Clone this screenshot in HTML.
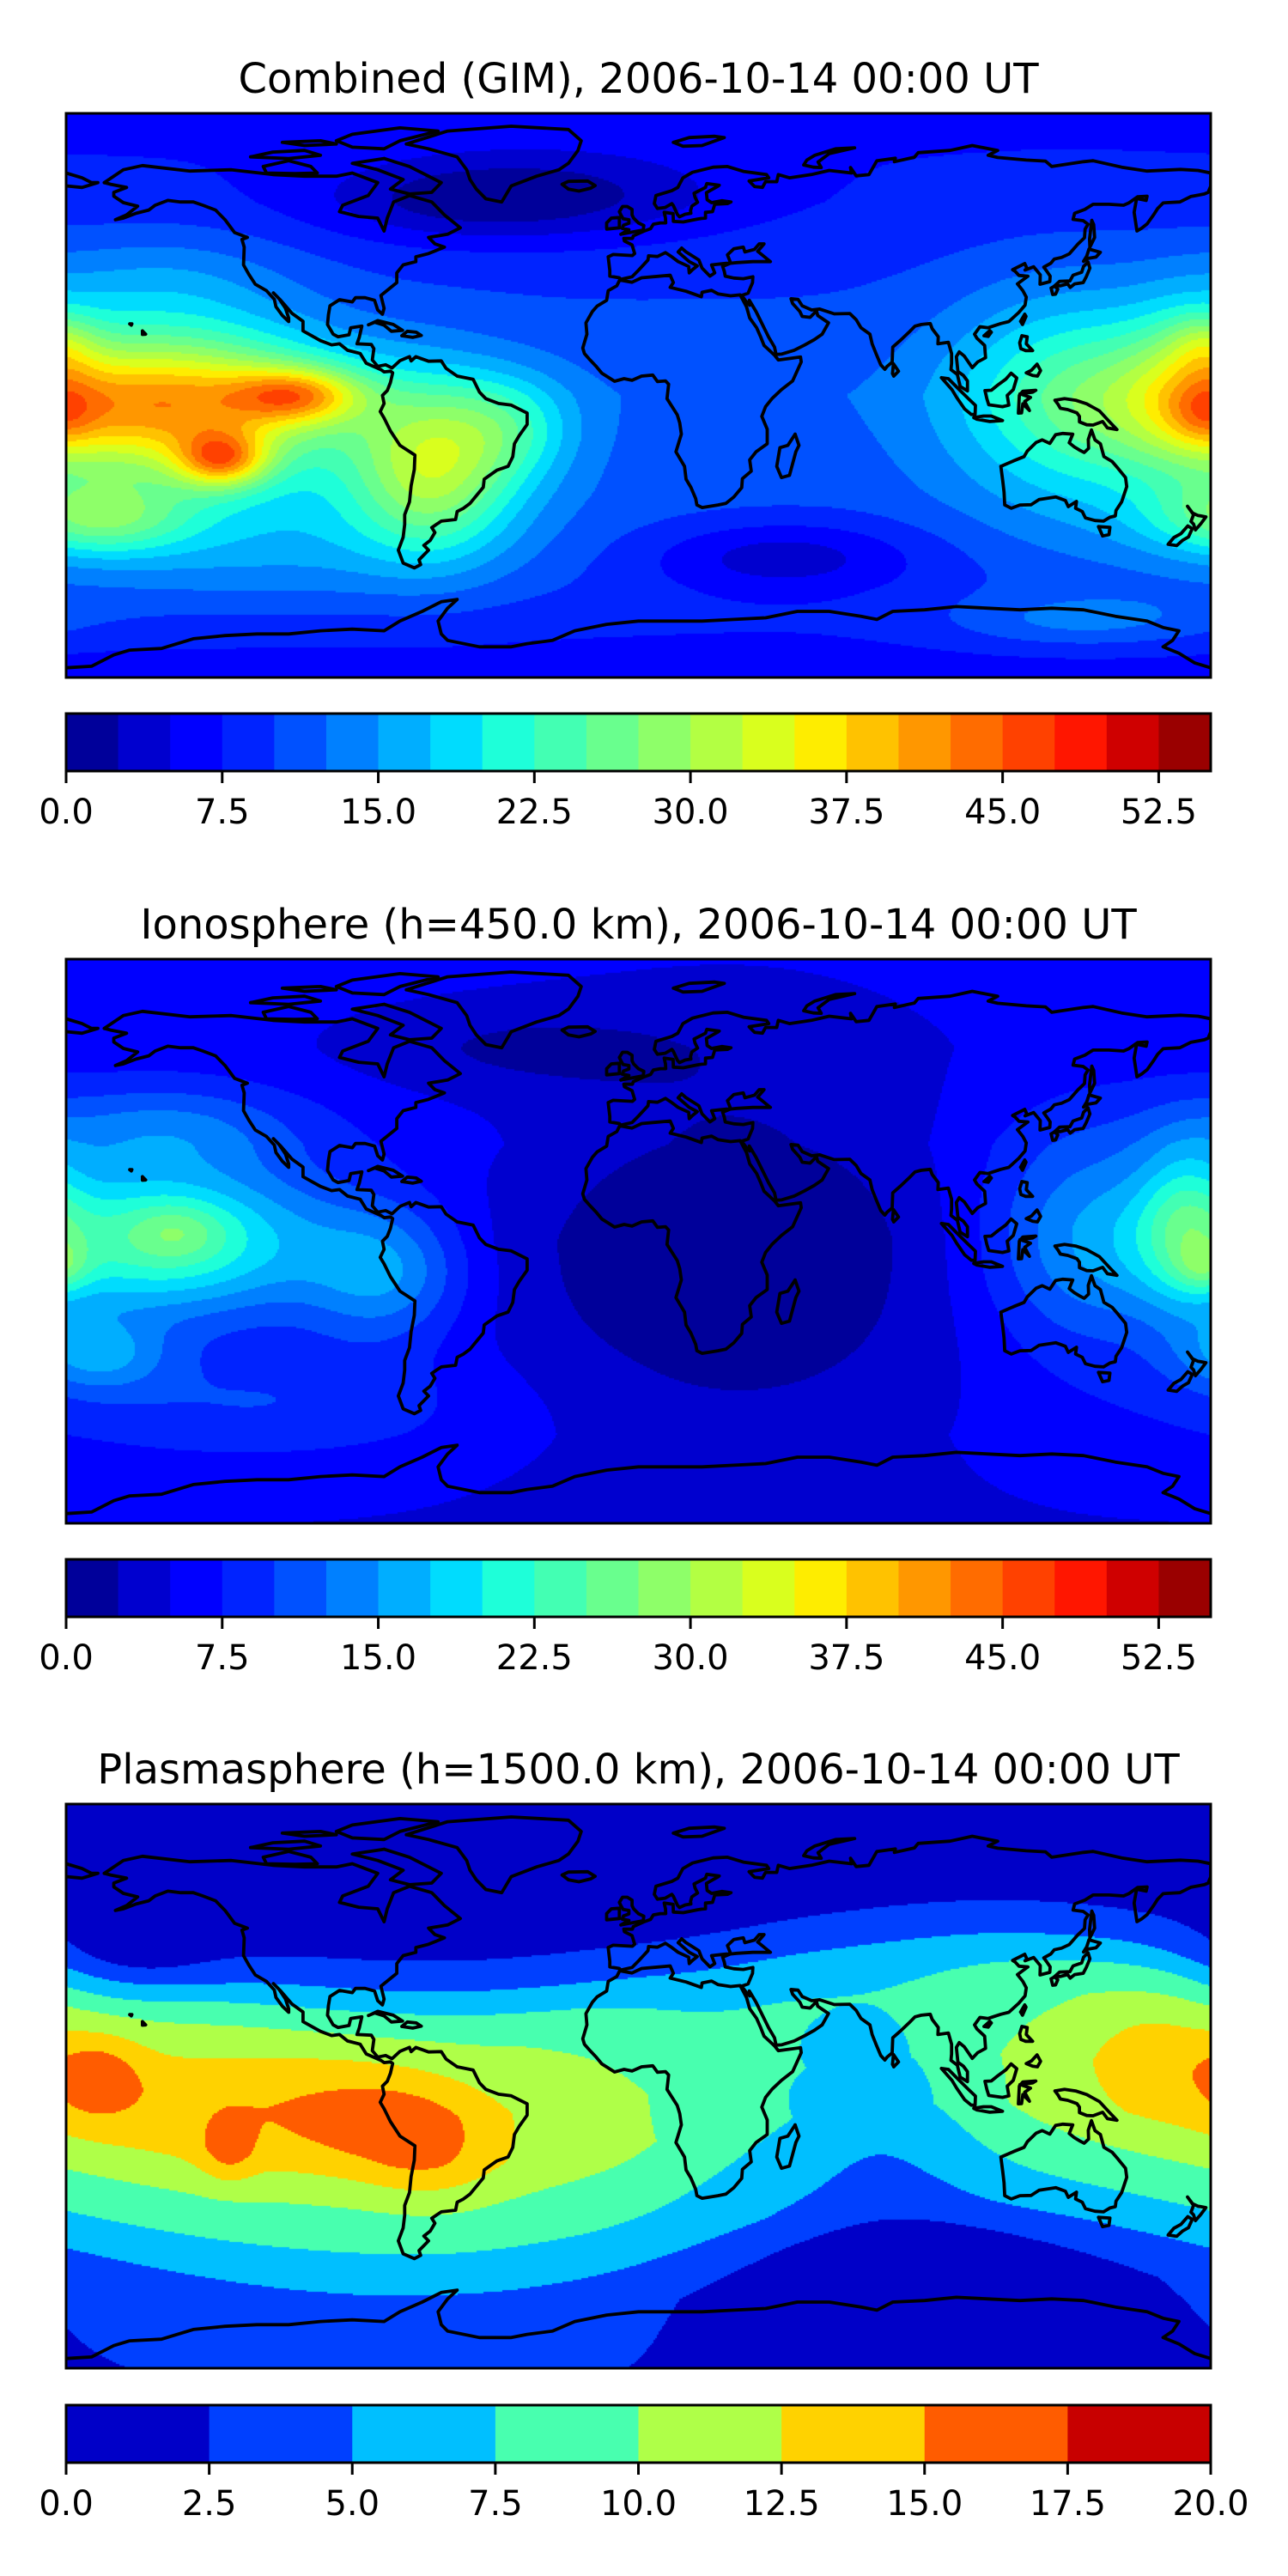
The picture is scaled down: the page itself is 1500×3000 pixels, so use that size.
<!DOCTYPE html>
<html><head><meta charset="utf-8">
<style>
html,body{margin:0;padding:0;background:#fff;}
#wrap{position:relative;width:1500px;height:3000px;overflow:hidden;background:#fff;}
canvas{position:absolute;}
svg{position:absolute;left:0;top:0;}
text{font-family:"DejaVu Sans","Liberation Sans",sans-serif;fill:#000;}
</style></head>
<body>
<div id="wrap">
<canvas id="c0" width="1333" height="657" style="left:77px;top:132px"></canvas>
<canvas id="c1" width="1333" height="657" style="left:77px;top:1117px"></canvas>
<canvas id="c2" width="1333" height="657" style="left:77px;top:2101px"></canvas>
<svg id="ov" width="1500" height="3000"></svg>
</div>
<script>
// ---------- data ----------
const titles = ["Combined (GIM), 2006-10-14 00:00 UT","Ionosphere  (h=450.0 km), 2006-10-14 00:00 UT","Plasmasphere (h=1500.0 km), 2006-10-14 00:00 UT"];
const levelMax = [55, 55, 20];
const levelStep = [2.5, 2.5, 2.5];
const tickLabels0 = ["0.0","7.5","15.0","22.5","30.0","37.5","45.0","52.5"];
const tickValues0 = [0,7.5,15,22.5,30,37.5,45,52.5];
const tickLabels2 = ["0.0","2.5","5.0","7.5","10.0","12.5","15.0","17.5","20.0"];
const tickValues2 = [0,2.5,5,7.5,10,12.5,15,17.5,20];

// background latitude profiles
const baseLat0 = [87.5,60,30,0,-30,-60,-87.5];
const baseVal0 = [7,8,10,12,11,9,6];
const baseLat1 = [87.5,60,30,0,-30,-60,-87.5];
const baseVal1 = [6,6,7,6,6,6,5];
const baseLat2 = [90,55,48,38,30,20,0,-15,-30,-45,-55,-65,-90];
const baseVal2 = [1,1.5,2.5,5,7.5,9.5,11,11,9,7,5,3.5,2.5];

// anomalies: lon, lat, amplitude, sigma-lon, sigma-lat
const blobLon0 = [-150,-107,-131,-180,-65,-40,-170,-120,172,178,178,135,-30,45,-60,140,-150];
const blobLat0 = [-3,0,-20,3,-22,-10,-38,-45,5,17,-7,0,62,-50,60,-70,35];
const blobAmp0 = [30,16,18,3,18,8,12,6,5,4,4,10,-6,-6,-3,5,5];
const blobSx0  = [40,14,10,8,18,15,20,60,12,8,8,28,40,30,30,30,30];
const blobSy0  = [16,6,6,12,18,12,8,15,18,6,6,25,10,8,8,6,12];

const blobLon1 = [-150,-145,-170,-80,172,178,140,30,-40,-150,-120];
const blobLat1 = [0,3,-35,-10,5,-8,0,0,60,35,-50];
const blobAmp1 = [18,4,8,9,8,5,8,-6,-3,6,4];
const blobSx1  = [35,10,15,18,10,6,25,55,40,30,50];
const blobSy1  = [16,6,8,15,18,5,25,45,10,10,12];

const blobLon2 = [-170,-120,-85,-129,-65,162,75,25,90,-160];
const blobLat2 = [3,-5,-10,-20,-20,12,-5,0,-65,40];
const blobAmp2 = [4,3.5,2.5,3,3,2.5,-4.5,-2,-4,-3];
const blobSx2  = [10,50,18,6,15,16,25,20,45,20];
const blobSy2  = [9,18,10,7,12,14,25,25,20,10];

// coastline outlines (lon, lat)
const coast = [
[[-168,66],[-162,70],[-156,71.3],[-141,69.6],[-128,70],[-115,68.5],[-105,68],[-95,68],[-90,69],[-82,66],[-85,62],[-93,59],[-94,57],[-88,55.5],[-82,55],[-80,51],[-79,55],[-77,60],[-72,62],[-65,60],[-61,56],[-56,52],[-60,50],[-66,49],[-64,47],[-61,46],[-66,44],[-70,43],[-70,41.5],[-74,40.5],[-76,38],[-76,35],[-81,31],[-80,27],[-80.5,25.2],[-82,26.5],[-83,29.5],[-86,30.3],[-89,30.3],[-90,29],[-94,29.7],[-97,27.8],[-97.5,25],[-97.8,22],[-96,19],[-94.5,18.2],[-91,18.8],[-90.5,21],[-87,21.5],[-87.8,18],[-88.5,16],[-84,15.8],[-83.2,14.5],[-83.7,11],[-82,9],[-79.5,9.5],[-77.5,8.5],[-75,10.8],[-72,12],[-71.5,10.7],[-70,12],[-66,10.6],[-62,10.7],[-60.5,8.4],[-57,6],[-52,5],[-50,1],[-48,-1],[-44,-2.5],[-40,-3],[-35,-5.5],[-35,-9],[-37.5,-12.5],[-39,-15],[-39.5,-19],[-41,-22],[-44.5,-23.2],[-48.5,-26],[-48.8,-28.5],[-53,-33.5],[-55,-35],[-57,-36],[-57.5,-38.5],[-62,-39],[-65,-41],[-64,-42.5],[-65.5,-45],[-67.5,-46.5],[-66,-48],[-69,-51],[-68.5,-52.5],[-70.5,-53.5],[-74,-52],[-75.5,-48],[-74,-44],[-73.5,-40],[-73.5,-37],[-72,-33],[-71.5,-28],[-70.5,-23],[-70.3,-18.5],[-75,-15.5],[-78,-11],[-80,-7],[-81.2,-5],[-80,-2.5],[-80.5,0],[-79,1.5],[-78,4],[-77.3,7],[-78,7.5],[-80,7.3],[-81,8],[-85.6,10],[-87.5,13],[-91.5,14],[-94,16],[-96.5,15.7],[-100,17],[-105.5,20],[-105.5,23],[-109,25.5],[-112.5,29.5],[-114.8,31.8],[-113,30],[-111,27],[-110,24],[-110,22.9],[-112,24.8],[-114,27.5],[-114.5,29.8],[-117,32.5],[-120.5,34.5],[-122.5,37.5],[-124.2,40.5],[-124,46],[-124.7,48.4],[-123,49],[-127,50.5],[-130,54.5],[-133,57.5],[-137,59],[-140,60],[-144,60],[-148,60.5],[-152,59],[-154,57.5],[-158,56.5],[-162,55],[-164.5,54.5],[-161,56],[-157.5,58.7],[-162,59.8],[-165,61.8],[-165,63],[-161,64.5],[-166,65.5],[-168,66]],
[[-73,78],[-60,82],[-40,83.5],[-22,82.5],[-18,79],[-19,76],[-22,72],[-25,70],[-32,68],[-40,65],[-43,60],[-48,61],[-51,64],[-53,67],[-54,70],[-57,74],[-66,76.5],[-73,78]],
[[-80,73.5],[-72,71],[-66,68],[-62,66],[-65,63],[-72,62.5],[-78,64],[-74,67],[-82,70],[-90,72],[-80,73.5]],
[[-90,77],[-80,76.5],[-75,79],[-63,82],[-75,83],[-90,81],[-95,79],[-90,77]],
[[-118,71],[-110,72.8],[-103,71],[-101,69],[-108,68.8],[-117,69],[-118,71]],
[[-122,74],[-115,75.5],[-105,76],[-100,74.5],[-110,73.5],[-122,74]],
[[-100,79],[-95,78],[-105,77.5],[-112,78.5],[-100,79]],
[[-5.9,35.8],[-2,35.1],[1,36.5],[10,37.3],[11,35],[10,33.5],[15,32.3],[19.8,30.6],[20,32],[23,32.6],[25,31.5],[29,30.9],[32,31.2],[34,27.5],[35,24],[37.2,21],[38.5,18],[39.5,15.5],[42.8,12.5],[44,11],[51,11.9],[51.2,10.4],[48.5,4.5],[45,1.8],[42,-1],[40,-3.5],[38.8,-6.5],[40.5,-10.5],[40.5,-15],[37,-17.5],[35,-20],[35.5,-23.5],[32.7,-25.8],[32.5,-28.6],[30,-31.5],[27.5,-33.5],[25,-34],[20,-34.8],[18.4,-34],[18,-32],[16.5,-28.5],[15,-26],[14.5,-22],[11.8,-17.5],[13.5,-12],[13,-8.5],[12.2,-6],[9,-1],[9.5,3.5],[8.5,4.5],[6,4.3],[4.5,6.3],[1,6],[-2,4.7],[-4.5,5.2],[-7.5,4.4],[-11.5,6.9],[-13.3,9],[-15.2,11],[-17,13],[-17.5,14.7],[-16.2,19],[-16.5,22.5],[-14.5,26],[-13,27.7],[-10,29.5],[-9.5,32.5],[-6.8,34],[-5.9,35.8]],
[[49.3,-12],[50.5,-15.5],[49.5,-17.5],[47.5,-24.8],[45,-25.5],[43.5,-22],[44.5,-16.2],[47,-15.5],[49.3,-12]],
[[-9.5,43],[-9,38.7],[-9,37],[-6,36.5],[-5.6,36],[-2,36.8],[0,38.8],[3,42],[3.2,43.3],[6,43.1],[8.5,44.3],[10.5,43],[12.5,41.5],[15.8,40],[16,38],[17,39],[18.5,40.2],[16,41.5],[12.5,44.5],[13.6,45.7],[15,44.5],[19,42],[20,39.5],[22.5,37],[24,38],[23,40.5],[26,40.8],[29,41.1],[28,43.6],[30,45.5],[33,46],[33.5,44.5],[36.5,45.3],[38,47],[39.5,47],[37.5,44.7],[41.5,41.5],[36,41.5],[31,41.2],[28.9,41],[26.5,40],[27,38.5],[27.3,37],[30,36.4],[33,36.2],[36,36.8],[35.9,35],[34.5,31.7],[32.5,31],[34,29],[35,28],[34.9,29.5],[37,26],[39,22],[41,18],[42.8,15],[43.3,12.7],[45,12.8],[49,14],[52.2,15.6],[55.3,17.3],[57.8,19],[59.8,22.5],[56.4,24.8],[56,26.2],[54,24.2],[51.5,24.5],[50.8,26],[48.5,28.5],[48,30],[50.2,29.8],[51.5,27.8],[54.5,26.5],[57,26.8],[61.6,25.3],[66.5,25.4],[68.5,23.5],[70,21],[72.8,19],[73.5,16],[74.8,12.8],[76.2,9.5],[77.5,8.1],[78.2,9],[79.8,10.3],[80,15],[82.3,17],[85,19.5],[87,21.5],[89,22],[91.8,22.3],[92.4,20.7],[94.3,18.2],[94.2,16],[97.5,16.5],[98.5,13],[98.5,10],[98.3,8],[100.3,6.5],[101.2,2.8],[103.5,1.4],[103.5,4.5],[102.2,6.2],[100.5,7.4],[100,12],[100.9,13.5],[102.5,12.2],[105,8.6],[106.7,10.4],[109.2,11.7],[108.9,15.5],[106.5,17.7],[105.7,19],[107.4,21.3],[110,21],[111.8,21.6],[114,22.3],[116.5,22.9],[119.6,25.7],[121.6,28],[122,30.5],[120.9,32.5],[119.2,34.6],[122.5,37],[119.7,37.2],[118.5,38.5],[117.7,39],[121.5,40.9],[122.2,39.4],[121.6,38.9],[124.3,39.9],[126.4,37.4],[126.3,34.5],[129.4,35.3],[129.5,37],[128.4,38.6],[127.5,39.8],[129.7,41],[130.8,42.3],[133.1,42.8],[135.5,43.9],[138.2,46.9],[140.3,48.9],[140.5,51.6],[141.4,53.1],[139.9,54.2],[136.7,54.6],[137.2,56.5],[140.4,57.7],[143,59.3],[148,59.3],[152.6,59],[154.2,59.7],[157,61.6],[160,61.8],[159.7,60.5],[156.7,61.1],[155.9,56.8],[156.8,51],[158.3,51.9],[160,53.2],[162.1,56.1],[163.3,58],[165,59.7],[166.3,59.8],[170.3,60],[173.7,61.7],[178,62.5],[179.2,63],[180,64.9],[180,69],[176,69.8],[170.5,70.1],[160,69.6],[152,70.8],[143,72.8],[140,72.5],[130,71],[128,72.7],[122,73],[113,73.8],[110,74.5],[113,76],[105,77.5],[98,76],[88,75.3],[86.8,73.9],[80.5,72.5],[80.8,73.6],[75,72.8],[72.5,68.5],[68.5,68.1],[66.7,70.7],[67,69],[60,69.8],[54.4,68.5],[47.5,67.5],[44,68.5],[43.5,66.3],[40,66.3],[39,64.5],[36.5,64.8],[34.8,66.5],[41,67.5],[40.3,68.5],[33,69.5],[28,71],[23.5,70.8],[17,69.2],[14,67.5],[12.4,64.5],[10.5,63.5],[5.5,62],[5,59.5],[6,58],[8.4,58.3],[10.5,59.5],[11,58.9],[12.3,56.1],[12.9,55.4],[14.7,56.2],[16.5,56.5],[16.4,57.3],[16.8,58.7],[18.6,59.9],[17.8,61.5],[17.5,62.7],[21.1,64.5],[21.5,65.7],[25.4,65.2],[25,64.9],[21.4,62.9],[21.6,60.7],[23,59.8],[26.3,60.4],[29.1,60],[28,59.5],[24,59.3],[23.3,57],[21.1,56.8],[21.1,55],[19.9,54.9],[18.6,54.7],[14.1,53.8],[11,54],[10.9,56.4],[8.1,56.8],[8.5,55],[8.6,53.5],[6.9,53.5],[4.7,53.1],[3.8,51.7],[1.6,50.9],[-1.6,49.5],[-1.9,48.7],[-4.6,48.7],[-4.4,47.9],[-2,46.7],[-1.2,44],[-1.9,43.4],[-8,43.7],[-9.5,43]],
[[-5.5,50],[1.5,51.3],[1.7,52.7],[0,53.5],[-1.5,55],[-2,56],[-2,57.7],[-3.5,58.6],[-5,58.6],[-6,57],[-5.5,56],[-4.8,54.8],[-3,54.5],[-3,53.4],[-4.7,52.8],[-5.1,51.8],[-3,51.4],[-5.5,50]],
[[-6,52],[-6,54],[-6,55.2],[-8.5,55],[-10,53.5],[-10,51.6],[-6,52]],
[[-22,64],[-24,65.5],[-22,66.4],[-16,66.5],[-13.6,65.1],[-15,64.3],[-18.7,63.4],[-22,64]],
[[130.9,34],[132.5,35.4],[135.7,35.5],[136.7,37.3],[139.4,38.2],[140,40],[141.4,41.4],[142,39.5],[140.9,36.9],[139.9,35],[137.2,34.6],[135.8,33.5],[135,34.6],[132.6,34],[130.9,34]],
[[129.8,33.3],[130.9,33.9],[131.9,33],[131.2,31.4],[130.3,31.3],[129.8,33.3]],
[[140,41.6],[141,43.2],[141.7,45.4],[145.3,44.4],[143.9,42.9],[141.4,42.5],[140,41.6]],
[[142,46],[143.5,49],[143.2,53],[142.6,54.3],[142.2,51],[141.9,48.5],[142,46]],
[[120.2,23],[121.5,25.2],[121.9,24.5],[120.8,22],[120.2,23]],
[[108.7,18.5],[110.5,20.1],[111,19.6],[110,18.3],[108.7,18.5]],
[[120.6,18.5],[122.3,18.2],[122,16],[124,13.9],[121.8,13.9],[120.3,14.5],[119.9,16.3],[120.6,18.5]],
[[122,7],[123.6,7.8],[125.4,9.7],[126.5,7.7],[125.5,6],[124,6.2],[122,7]],
[[109,1.5],[109.6,-1],[110.2,-2.9],[114.5,-3.5],[116.5,-3],[116,0],[117.9,1.8],[119,5.4],[117.2,6.9],[115.5,5],[113,3.2],[111,1.6],[109,1.5]],
[[95.3,5.5],[97.5,5.2],[100.6,2.1],[103.8,-1],[106,-3.1],[105.9,-5.9],[104.7,-5.9],[102.6,-4.2],[100.1,-0.6],[98.6,1.8],[95.3,5.5]],
[[105.5,-6.9],[108.5,-6.4],[111,-6.4],[114.5,-7.8],[110.5,-8.1],[106.5,-7.4],[105.5,-6.9]],
[[119.5,-5.5],[120.5,-5.4],[120.9,-2.6],[123,-4.7],[121.5,-1.9],[123.3,-0.6],[120,0.5],[124,1],[125,1.6],[120.9,1.3],[119.8,0],[119.5,-5.5]],
[[131,-1.5],[134,-1],[137.5,-1.5],[141,-2.6],[145,-4.8],[148,-8],[150.5,-10.6],[147.5,-10.1],[146,-8.1],[143,-9.2],[141,-9.1],[138.7,-8.2],[138.7,-6.5],[137.9,-5.4],[135,-4.4],[132.7,-4],[132,-2.8],[131,-1.5]],
[[114,-22],[114.6,-26.5],[115,-30],[115.2,-34],[117.3,-35],[120,-34],[123.5,-33.9],[126,-32.3],[131.3,-31.5],[134.3,-32.6],[135.2,-34.5],[137.8,-32.9],[137.5,-35],[139.6,-36],[140.6,-38],[143.6,-38.8],[146.3,-39],[148.3,-37.8],[150,-37.4],[150.2,-35.7],[152,-33],[153.6,-28.3],[153.2,-25.5],[150.8,-22.6],[149,-20.5],[146.4,-19],[145.3,-15],[143.6,-13.8],[142.5,-10.7],[141.5,-13.7],[141.6,-16.4],[140.2,-17.7],[139,-17.1],[137,-15.9],[135.5,-14.7],[136.6,-12],[133.5,-11.8],[131.2,-12.2],[129.4,-14.9],[127,-13.8],[125.1,-14.6],[122.3,-17.3],[121.3,-19],[118,-20.3],[114,-22]],
[[144.7,-40.7],[148.3,-40.9],[148,-43.2],[146,-43.6],[144.7,-40.7]],
[[172.7,-34.4],[174.3,-36.5],[175.9,-37.2],[178.5,-37.7],[176.8,-39.9],[175.2,-41.7],[174.6,-39.9],[173.8,-39.1],[174.6,-37],[172.7,-34.4]],
[[172.8,-40.5],[174.2,-41.3],[173,-43.9],[171.2,-44.9],[169.3,-46.6],[166.6,-46.2],[168.4,-44.1],[170.6,-42.9],[172.8,-40.5]],
[[79.9,6.8],[80.2,9.8],[81.8,7.5],[80.3,6],[79.9,6.8]],
[[-84.9,21.9],[-82,23.2],[-77.1,22],[-74.2,20.2],[-77.7,19.9],[-80,21.8],[-82.9,22.7],[-84.9,21.9]],
[[-74.4,18.5],[-72.7,19.9],[-69.9,19.6],[-68.3,18.6],[-71,18],[-74.4,18.5]],
[[52,71.5],[55,70.8],[57.5,70.7],[56.5,72.4],[60,75],[68,76.8],[62,76.5],[55.5,74.5],[53,73],[52,71.5]],
[[11,78.5],[16,80],[24,80.4],[27,80],[20,77.5],[14,77.3],[11,78.5]],
[[-156,20],[-155,19],[-156,18.9],[-156,20]],
[[-160,22.2],[-159.3,22.2],[-159.5,21.8],[-160,22.2]],
[[-180,69],[-175,67.5],[-172,66],[-170,66],[-175,64.5],[-180,65]],
[[-180,-84.5],[-172,-84],[-165,-80.5],[-160,-79],[-150,-78.5],[-145,-77],[-140,-75.5],[-130,-74.5],[-120,-74],[-110,-74],[-100,-73],[-90,-72.5],[-80,-73],[-75,-70],[-68,-67],[-62,-64],[-57,-63.3],[-60,-66],[-63,-70],[-62,-74],[-60,-76],[-50,-78],[-40,-78],[-35,-77],[-27,-76],[-20,-73],[-10,-71],[0,-70],[10,-70],[20,-70],[30,-69.5],[40,-69],[50,-67],[60,-67],[70,-68.5],[75,-69.5],[80,-67],[90,-66.5],[100,-65.5],[110,-66],[120,-66.5],[130,-66],[140,-66.5],[150,-68.5],[160,-70],[165,-72],[170,-73],[168,-76],[165,-78],[170,-80],[175,-83],[180,-84.5]]
];

// ---------- layout ----------
const MX = 77, MW = 1333, MH = 657, LATTOP = 87.5, LATBOT = -87.5;
const panelTop = [132, 1117, 2101];
const cbTop = [831, 1816, 2801];
const CBH = 67;
const panelNames = ["combined","ionosphere","plasmasphere"];
const xOfLon = lon => (lon + 180) / 360 * MW;
const yOfLat = lat => (LATTOP - lat) / (LATTOP - LATBOT) * MH;

function jet(x){
  function seg(pts){ for(let i=1;i<pts.length;i++){ if(x<=pts[i][0]){const a=pts[i-1],b=pts[i];return a[1]+(b[1]-a[1])*(x-a[0])/(b[0]-a[0]);} } return pts[pts.length-1][1]; }
  const r=seg([[0,0],[0.35,0],[0.66,1],[0.89,1],[1,0.5]]);
  const g=seg([[0,0],[0.125,0],[0.375,1],[0.64,1],[0.91,0],[1,0]]);
  const b=seg([[0,0.5],[0.11,1],[0.34,1],[0.65,0],[1,0]]);
  return [Math.round(r*255),Math.round(g*255),Math.round(b*255)];
}
function interp(xs, ys, x){
  if(x>=xs[0]) return ys[0];
  for(let i=1;i<xs.length;i++){ if(x>=xs[i]){const t=(x-xs[i-1])/(xs[i]-xs[i-1]);return ys[i-1]+t*(ys[i]-ys[i-1]);} }
  return ys[ys.length-1];
}
const bases = [[baseLat0,baseVal0,false],[baseLat1,baseVal1,false],[baseLat2,baseVal2,true]];
const blobs = [[blobLon0,blobLat0,blobAmp0,blobSx0,blobSy0],[blobLon1,blobLat1,blobAmp1,blobSx1,blobSy1],[blobLon2,blobLat2,blobAmp2,blobSx2,blobSy2]];

function field(p, lon, lat){
  const [bl,bv,mag] = bases[p];
  let ref = lat;
  if(mag) ref = lat + 10*Math.cos((lon+72)*Math.PI/180);
  let v = interp(bl,bv,ref);
  const [L,A,M,SX,SY] = blobs[p];
  for(let i=0;i<L.length;i++){
    let d = ((lon - L[i] + 540) % 360) - 180;
    const e = d*d/(2*SX[i]*SX[i]) + (lat-A[i])*(lat-A[i])/(2*SY[i]*SY[i]);
    if(e<20) v += M[i]*Math.exp(-e);
  }
  return v;
}

for(let p=0;p<3;p++){
  const n = Math.round(levelMax[p]/levelStep[p]);
  const cols = []; for(let i=0;i<n;i++) cols.push(jet((i+0.5)/n));
  const cv = document.getElementById('c'+p), ctx = cv.getContext('2d');
  const img = ctx.createImageData(MW, MH), d = img.data;
  const S = 2;
  for(let y=0;y<MH;y+=S){
    const lat = LATTOP - (y+S/2)/MH*(LATTOP-LATBOT);
    for(let x=0;x<MW;x+=S){
      const lon = -180 + (x+S/2)/MW*360;
      let k = Math.floor(field(p,lon,lat)/levelStep[p]);
      k = Math.max(0,Math.min(n-1,k));
      const c = cols[k];
      for(let yy=y;yy<Math.min(y+S,MH);yy++) for(let xx=x;xx<Math.min(x+S,MW);xx++){
        const o=(yy*MW+xx)*4; d[o]=c[0];d[o+1]=c[1];d[o+2]=c[2];d[o+3]=255;
      }
    }
  }
  ctx.putImageData(img,0,0);
}

// ---------- overlay ----------
const NS = "http://www.w3.org/2000/svg";
const svg = document.getElementById('ov');
function mk(tag, attrs, parent){ const e=document.createElementNS(NS,tag); for(const k in attrs) e.setAttribute(k,attrs[k]); (parent||svg).appendChild(e); return e; }

const defs = mk('defs',{});
for(let p=0;p<3;p++){
  const cp = mk('clipPath',{id:'clip'+p},defs);
  mk('rect',{x:MX,y:panelTop[p],width:MW,height:MH},cp);
}

for(let p=0;p<3;p++){
  const top = panelTop[p];
  const g = mk('g',{});
  
  
  const t = mk('text',{x:MX+MW/2,y:top-24,'text-anchor':'middle','font-size':'48'},g);
  t.textContent = titles[p];
  
  
  const cg = mk('g',{'clip-path':'url(#clip'+p+')'},g);
  
  
  for(const poly of coast){
    const dstr = poly.map((pt,i)=>(i?'L':'M')+(MX+xOfLon(pt[0])).toFixed(1)+' '+(top+yOfLat(pt[1])).toFixed(1)).join(' ');
    mk('path',{d:dstr,fill:'none',stroke:'#000','stroke-width':'3.8','stroke-linejoin':'round','stroke-linecap':'round'},cg);
  }
  const fr = mk('rect',{x:MX,y:top,width:MW,height:MH,fill:'none',stroke:'#000','stroke-width':'3'},g);
  
  
  const n = Math.round(levelMax[p]/levelStep[p]);
  const cbg = mk('g',{},g);
  
  
  const cx = v => MX + v/levelMax[p]*MW;
  for(let i=0;i<n;i++){
    const c = jet((i+0.5)/n);
    const r = mk('rect',{x:cx(i*levelStep[p]),y:cbTop[p],width:MW/n+0.6,height:CBH,fill:'rgb('+c.join(',')+')'},cbg);
    
    
  }
  mk('rect',{x:MX,y:cbTop[p],width:MW,height:CBH,fill:'none',stroke:'#000','stroke-width':'3'},cbg);
  const tv = p<2 ? tickValues0 : tickValues2;
  const tl = p<2 ? tickLabels0 : tickLabels2;
  for(let i=0;i<tv.length;i++){
    const x = cx(tv[i]);
    const tk = mk('line',{x1:x,x2:x,y1:cbTop[p]+CBH,y2:cbTop[p]+CBH+14,stroke:'#000','stroke-width':'3'},cbg);
    
    
    const lb = mk('text',{x:x,y:cbTop[p]+CBH+61,'text-anchor':'middle','font-size':'40'},cbg);
    lb.textContent = tl[i];
    
    
  }
}
</script>
</body></html>
